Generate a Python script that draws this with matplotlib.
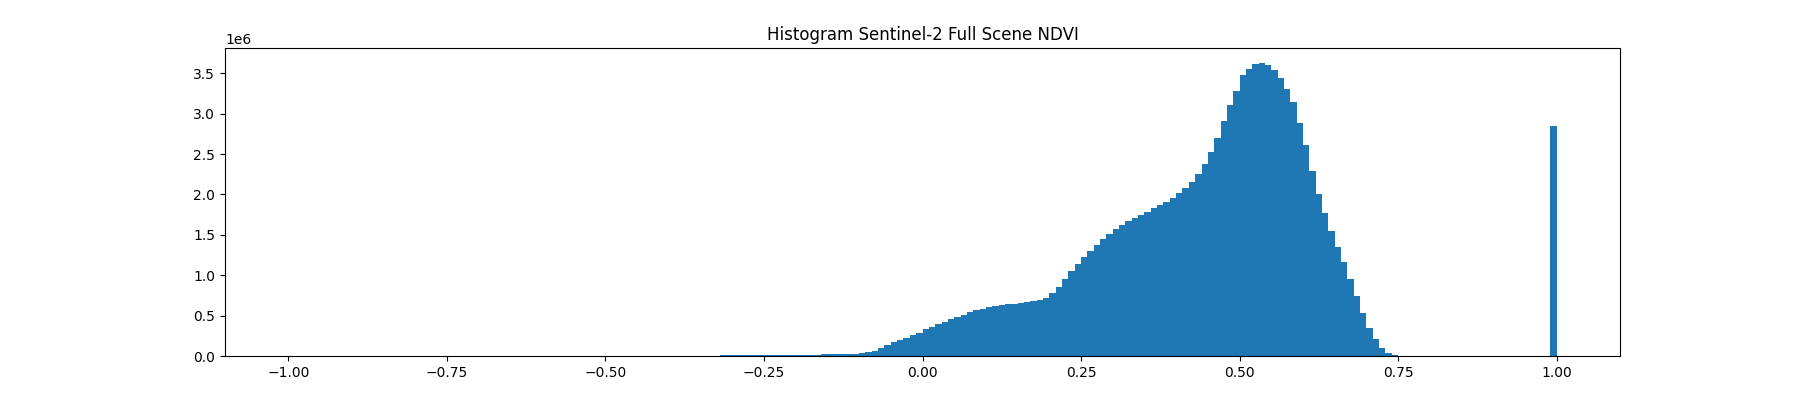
import numpy as np
import matplotlib
matplotlib.use("Agg")
import matplotlib.pyplot as plt

# NDVI histogram, 200 bins over [-1, 1]
N_BINS = 200
NDVI_MIN, NDVI_MAX = -1.0, 1.0

# pixel counts for bins starting at -0.32 up to the bin starting at 0.75
first_bin_start = -0.32
counts_neg = [8000] * 16 + [25000] * 6 + [
    41000, 54000, 65000, 97000, 136000, 170000, 194000, 223000, 260000, 285000,
]
counts_pos = [
    335000, 359000, 397000, 421000, 459000, 483000, 508000, 545000, 570000, 587000,
    607000, 620000, 632000, 645000, 645000, 657000, 669000, 682000, 694000, 719000,
    781000, 855000, 954000, 1058000, 1140000, 1227000, 1302000, 1376000, 1450000, 1512000,
    1574000, 1624000, 1673000, 1711000, 1748000, 1785000, 1835000, 1872000, 1909000, 1959000,
    2021000, 2083000, 2157000, 2256000, 2380000, 2529000, 2702000, 2913000, 3111000, 3285000,
    3483000, 3558000, 3620000, 3632000, 3607000, 3545000, 3446000, 3310000, 3149000, 2888000,
    2616000, 2293000, 2008000, 1773000, 1550000, 1351000, 1165000, 955000, 744000, 533000,
    347000, 211000, 99000, 37000, 12000, 1500,
]
# saturated pixels (NDVI == 1) land in the last bin
last_bin_count = 2852000

edges = np.linspace(NDVI_MIN, NDVI_MAX, N_BINS + 1)
centers = (edges[:-1] + edges[1:]) / 2
weights = np.zeros(N_BINS)
start = int(round((first_bin_start - NDVI_MIN) / (edges[1] - edges[0])))
vals = counts_neg + counts_pos
weights[start:start + len(vals)] = vals
weights[-1] = last_bin_count

fig, ax = plt.subplots(figsize=(18, 4), dpi=100)
ax.hist(centers, bins=edges, weights=weights)
ax.set_title("Histogram Sentinel-2 Full Scene NDVI")
fig.savefig("out.png", dpi=100)
